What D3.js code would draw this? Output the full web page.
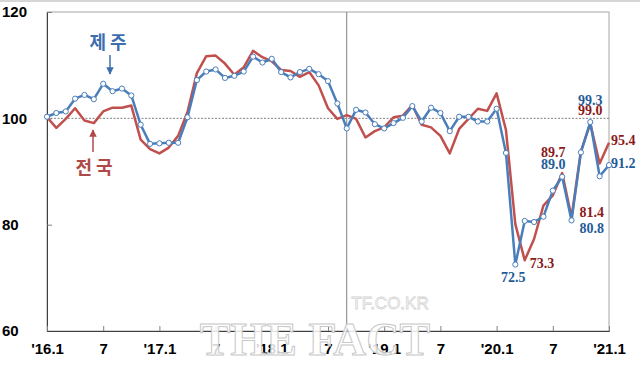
<!DOCTYPE html>
<html><head><meta charset="utf-8">
<script src="https://cdn.jsdelivr.net/npm/d3@7"></script>
<style>body{margin:0;background:#fff}svg{display:block}</style>
</head><body>
<script>
const tickLabels = ["'16.1","7","'17.1","7","'18.1","7","'19.1","7","'20.1","7","'21.1"];
const yTicks = [60,80,100,120];
const jeju = [100.3,101.0,101.3,103.7,104.4,103.6,106.5,105.1,105.6,104.3,
  98.8,95.2,95.3,95.4,95.4,100.2,107.2,108.8,109.2,107.6,
  108.0,108.8,111.6,110.5,111.2,108.7,107.7,108.7,109.3,108.3,
  107.0,102.8,98.1,101.6,101.1,98.9,98.1,99.1,100.1,102.3,
  99.4,102.0,101.0,97.6,100.3,100.3,99.4,99.4,101.8,93.5,
  72.5,80.7,80.5,81.5,86.4,89.0,80.8,93.6,99.3,89.1,91.2];
const national = [100.2,98.2,99.9,101.9,99.6,99.1,101.3,102.0,102.0,102.4,
  96.0,94.2,93.4,94.5,96.7,101.2,108.5,111.7,111.8,110.3,
  108.2,109.6,112.7,111.5,110.7,109.1,108.9,107.8,108.7,106.2,
  101.9,99.9,100.6,99.9,96.4,97.6,98.3,100.2,100.5,102.5,
  98.8,98.3,96.7,93.4,98.0,99.9,101.8,101.4,104.7,97.8,
  80.1,73.3,77.3,83.6,85.5,89.7,81.4,93.8,99.0,91.5,95.4];
const jejuLabels = [[50,"72.5"],[55,"89.0"],[56,"80.8"],[58,"99.3"],[60,"91.2"]];
const natLabels = [[51,"73.3"],[55,"89.7"],[56,"81.4"],[58,"99.0"],[60,"95.4"]];

const W=640,H=372;
const L=47,R=609,T=12,B=331;
const blue="#4a7ebb", red="#c0504d", blueTxt="#1f5c99", redTxt="#8b1a1a";
const svg=d3.select("body").append("svg").attr("width",W).attr("height",H);
const x=d3.scaleLinear().domain([0,60]).range([L,R]);
const y=d3.scaleLinear().domain([60,120]).range([B,T]);

svg.append("line").attr("x1",0).attr("x2",W).attr("y1",1).attr("y2",1).attr("stroke","#c8c8c8").attr("stroke-width",1.5);
// plot border
svg.append("rect").attr("x",L).attr("y",T).attr("width",R-L).attr("height",B-T).attr("fill","none").attr("stroke","#a6a6a6");
// ref line 100
svg.append("line").attr("x1",L).attr("x2",R).attr("y1",y(100)).attr("y2",y(100))
  .attr("stroke","#808080").attr("stroke-dasharray","2,1.5").attr("stroke-width",1);
// vertical separator
svg.append("line").attr("x1",x(32)).attr("x2",x(32)).attr("y1",T).attr("y2",B).attr("stroke","#7f7f7f").attr("stroke-width",1);

// axes
const yAxis=d3.axisLeft(y).tickValues(yTicks).tickSize(-5).tickPadding(18).tickFormat(d3.format("d"));
const gy=svg.append("g").attr("transform",`translate(${L},0)`).call(yAxis);
gy.select(".domain").attr("stroke","#404040");
gy.selectAll(".tick line").attr("stroke","#808080");
gy.selectAll("text").attr("font-family","Liberation Sans, Arial, sans-serif").attr("font-size",15).attr("font-weight","bold").attr("fill","#000").attr("text-anchor","start").attr("x",-45);
const xAxis=d3.axisBottom(x).tickValues(d3.range(0,61,6)).tickSize(-5).tickPadding(12).tickFormat((d,i)=>tickLabels[i]);
const gx=svg.append("g").attr("transform",`translate(0,${B})`).call(xAxis);
gx.select(".domain").attr("stroke","#404040");
gx.selectAll(".tick line").attr("stroke","#808080");
gx.selectAll("text").attr("font-family","Liberation Sans, Arial, sans-serif").attr("font-size",15).attr("font-weight","bold").attr("fill","#000");

const line=d3.line().x((d,i)=>x(i)).y(d=>y(d));
svg.append("path").datum(national).attr("d",line).attr("fill","none").attr("stroke",red).attr("stroke-width",2.5).attr("stroke-linejoin","round");
svg.append("path").datum(jeju).attr("d",line).attr("fill","none").attr("stroke",blue).attr("stroke-width",2.5).attr("stroke-linejoin","round");
svg.append("g").selectAll("circle").data(jeju).join("circle")
  .attr("cx",(d,i)=>x(i)).attr("cy",d=>y(d)).attr("r",2.6)
  .attr("fill","#fff").attr("stroke",blue).attr("stroke-width",1);

// value labels
const lf="Liberation Serif, DejaVu Serif, serif";
function lab(t,px,py,col,anchor){svg.append("text").attr("x",px).attr("y",py).attr("fill",col).attr("font-family",lf).attr("font-weight","bold").attr("font-size",14).attr("text-anchor",anchor).attr("dominant-baseline","central").text(t);}
const jl=Object.fromEntries(jejuLabels), nl=Object.fromEntries(natLabels);
lab(jl[50],x(50)-2,277,blueTxt,"middle");
lab(nl[51],x(51)+5,263,redTxt,"start");
lab(nl[55],x(55)-9,152,redTxt,"middle");
lab(jl[55],x(55)-9,164,blueTxt,"middle");
lab(nl[56],x(56)+8,212,redTxt,"start");
lab(jl[56],x(56)+8,228,blueTxt,"start");
lab(jl[58],x(58),100,blueTxt,"middle");
lab(nl[58],x(58),110,redTxt,"middle");
lab(nl[60],x(60)+2,140,redTxt,"start");
lab(jl[60],x(60)+2,163,blueTxt,"start");

// series name annotations
const kf="Noto Sans CJK KR, sans-serif";
svg.append("text").attr("x",110).attr("y",41).attr("text-anchor","middle").attr("dominant-baseline","central").attr("font-family",kf).attr("font-weight","bold").attr("font-size",18).attr("fill","#3d6fae").attr("letter-spacing","4px").text("제주");
svg.append("text").attr("x",96).attr("y",166).attr("text-anchor","middle").attr("dominant-baseline","central").attr("font-family",kf).attr("font-weight","bold").attr("font-size",18).attr("fill","#b04a48").attr("letter-spacing","4px").text("전국");
const defs=svg.append("defs");
function mk(id,c){defs.append("marker").attr("id",id).attr("viewBox","0 0 10 10").attr("refX",9).attr("refY",5).attr("markerWidth",5).attr("markerHeight",5).attr("orient","auto").append("path").attr("d","M0,0L10,5L0,10z").attr("fill",c);}
mk("ab","#3d6fae");mk("ar","#b04a48");
svg.append("line").attr("x1",110).attr("x2",110).attr("y1",55).attr("y2",74).attr("stroke","#3d6fae").attr("stroke-width",1.5).attr("marker-end","url(#ab)");
svg.append("line").attr("x1",93).attr("x2",93).attr("y1",152).attr("y2",130).attr("stroke","#b04a48").attr("stroke-width",1.5).attr("marker-end","url(#ar)");

// watermark
svg.append("text").attr("x",390).attr("y",309).attr("text-anchor","middle").attr("font-family","Liberation Sans, sans-serif").attr("font-size",17).attr("fill","#fff").attr("stroke","#d0d0d0").attr("stroke-width",0.8).attr("opacity",0.9).text("TF.CO.KR");
svg.append("text").attr("x",315).attr("y",355).attr("text-anchor","middle").attr("font-family","Liberation Serif, serif").attr("font-weight","bold").attr("font-size",46).attr("fill","#fff").attr("fill-opacity",0.85).attr("stroke","#c8c8c8").attr("stroke-width",1).text("THE FACT");
</script>
</body></html>
